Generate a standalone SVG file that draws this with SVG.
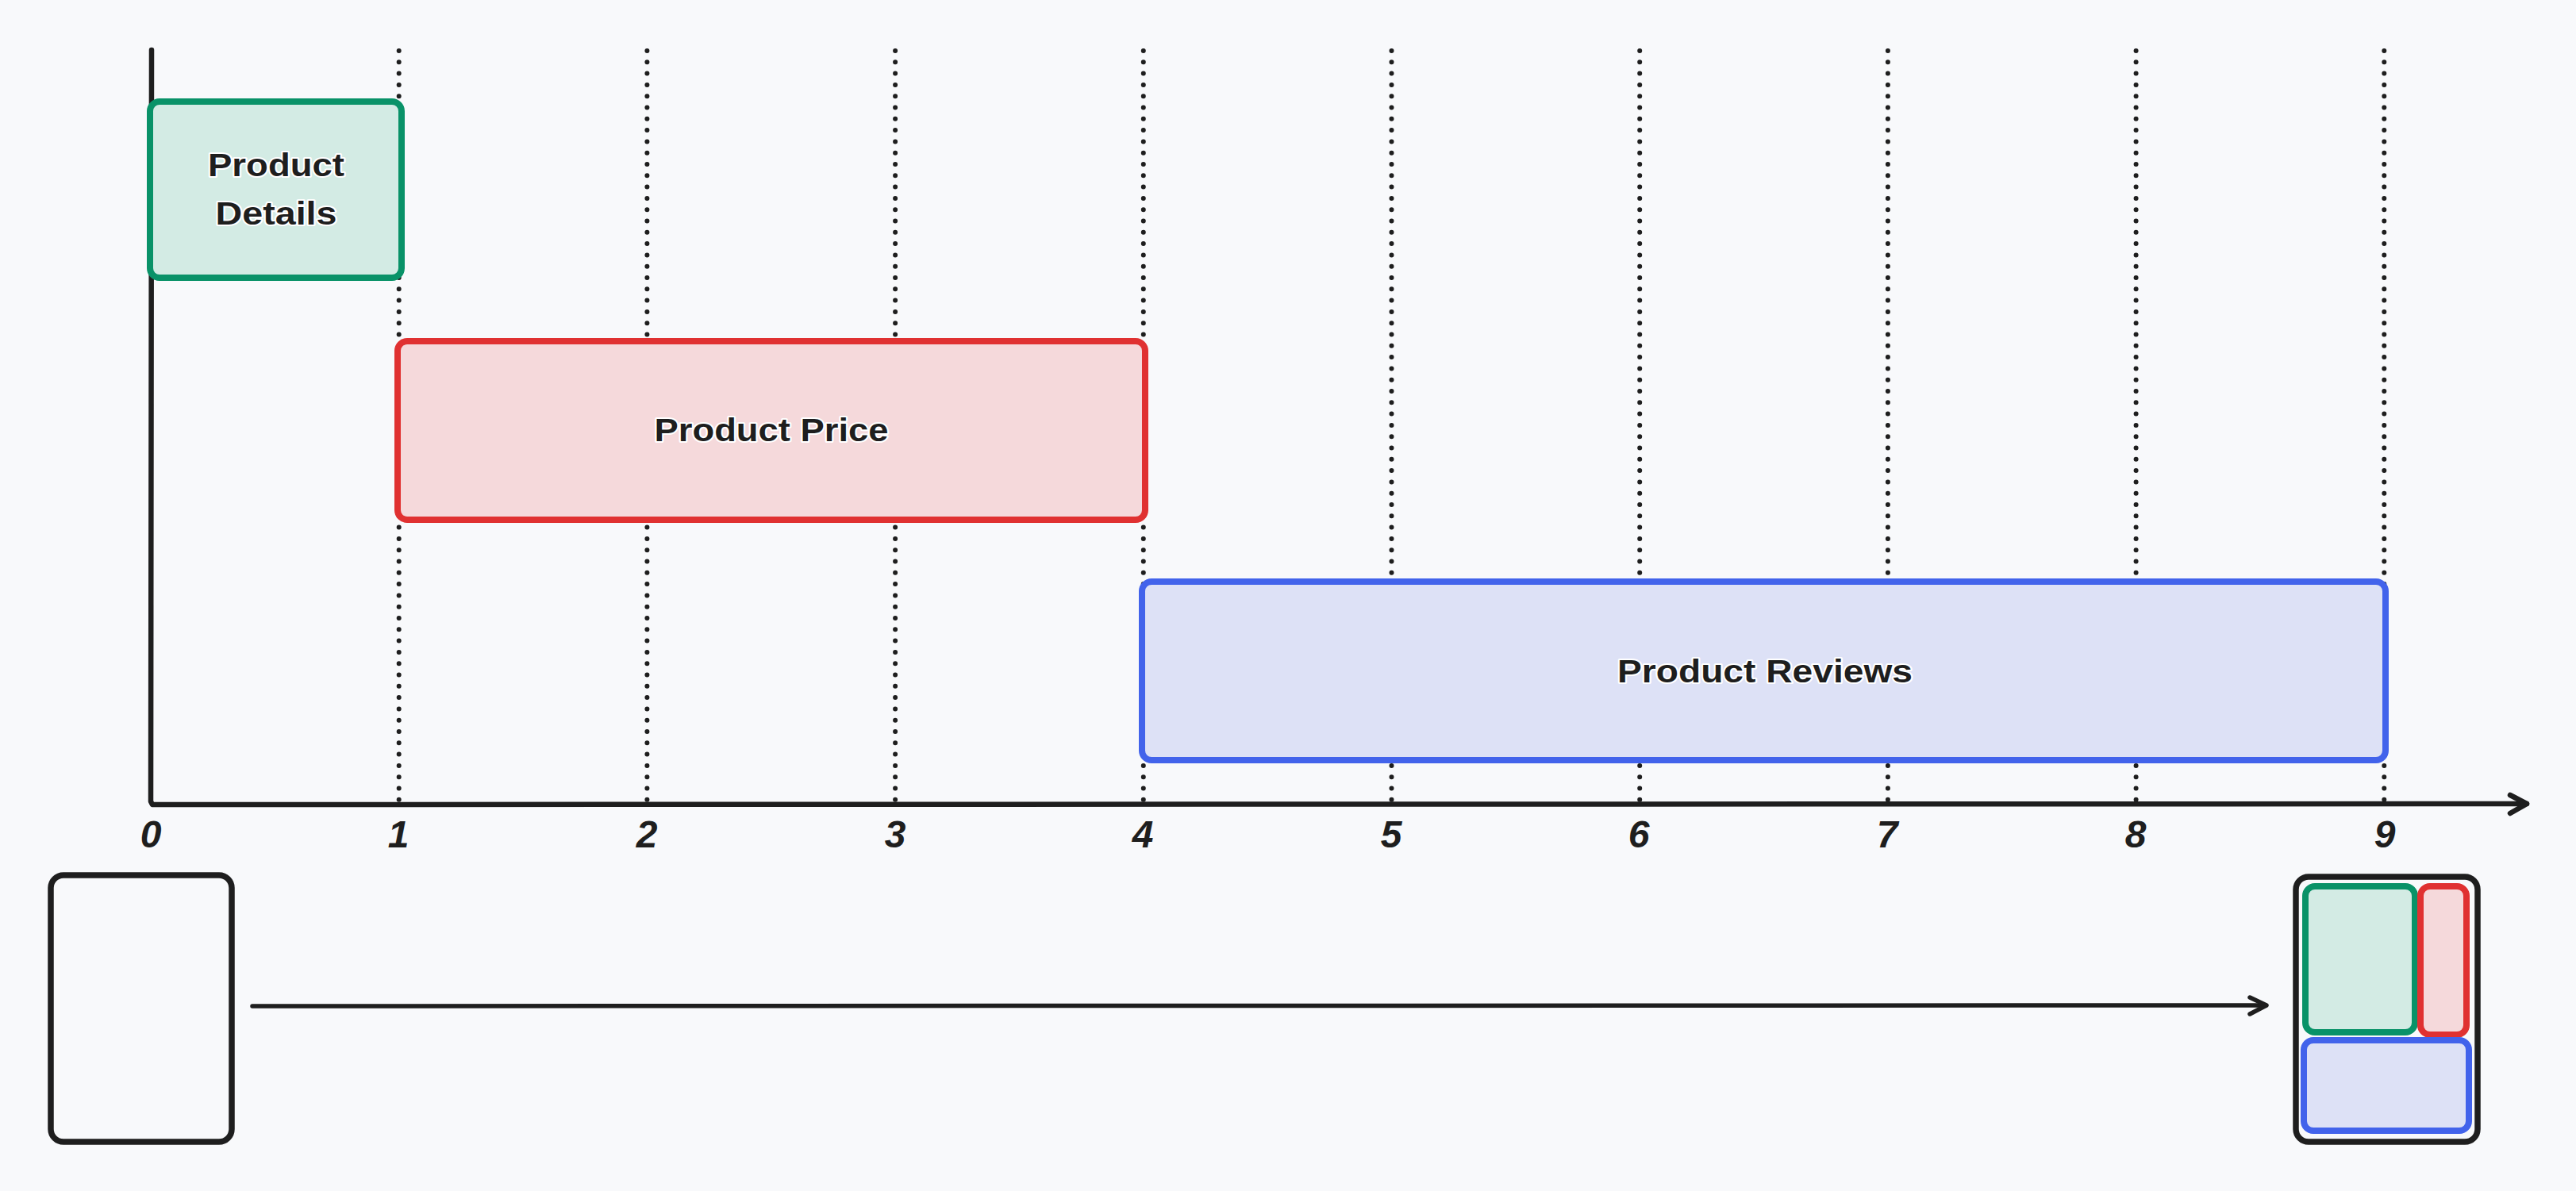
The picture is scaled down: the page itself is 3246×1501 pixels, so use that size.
<svg xmlns="http://www.w3.org/2000/svg" width="3246" height="1501" viewBox="0 0 3246 1501">
  <style>
    .grid { stroke: #1e1e1e; stroke-width: 6; stroke-linecap: round; stroke-dasharray: 0 14.3; fill: none; }
    .axis { stroke: #1e1e1e; stroke-width: 6.5; stroke-linecap: round; stroke-linejoin: round; fill: none; }
    .tick { font-family: "Liberation Sans", Arial, sans-serif; font-size: 48px; font-style: italic; font-weight: bold; fill: #1e1e1e; text-anchor: middle; }
    .lbl { font-family: "Liberation Sans", Arial, sans-serif; font-size: 40px; font-weight: bold; fill: #1e1e1e; text-anchor: middle; stroke: #ffffff; stroke-width: 4; paint-order: stroke; stroke-linejoin: round; }
    .green { fill: #d3ebe4; stroke: #099268; stroke-width: 8; }
    .red { fill: #f5d9db; stroke: #e03131; stroke-width: 8; }
    .blue { fill: #dde1f6; stroke: #4263eb; stroke-width: 8; }
    .black { fill: none; stroke: #1e1e1e; stroke-width: 7.5; }
    .inner { stroke-width: 8; }
    .conn { stroke: #1e1e1e; stroke-width: 5.5; stroke-linecap: round; stroke-linejoin: round; fill: none; }
  </style>
  <rect x="0" y="0" width="3246" height="1501" fill="#f8f9fb"/>

  <g id="grid-lines">
    <line class="grid" x1="502.7" y1="64" x2="502.7" y2="1012"/>
    <line class="grid" x1="815.4" y1="64" x2="815.4" y2="1012"/>
    <line class="grid" x1="1128.1" y1="64" x2="1128.1" y2="1012"/>
    <line class="grid" x1="1440.8" y1="64" x2="1440.8" y2="1012"/>
    <line class="grid" x1="1753.5" y1="64" x2="1753.5" y2="1012"/>
    <line class="grid" x1="2066.2" y1="64" x2="2066.2" y2="1012"/>
    <line class="grid" x1="2378.9" y1="64" x2="2378.9" y2="1012"/>
    <line class="grid" x1="2691.6" y1="64" x2="2691.6" y2="1012"/>
    <line class="grid" x1="3004.3" y1="64" x2="3004.3" y2="1012"/>
  </g>

  <g id="axes">
    <path class="axis" d="M191 63 L190 1010 L192 1014 L3184 1013"/>
    <path class="axis" d="M3163 1002 L3184 1013 L3163 1025"/>
  </g>

  <g id="tick-labels">
    <text class="tick" x="190" y="1068">0</text>
    <text class="tick" x="502" y="1068">1</text>
    <text class="tick" x="815" y="1068">2</text>
    <text class="tick" x="1128" y="1068">3</text>
    <text class="tick" x="1440" y="1068">4</text>
    <text class="tick" x="1753" y="1068">5</text>
    <text class="tick" x="2065" y="1068">6</text>
    <text class="tick" x="2378" y="1068">7</text>
    <text class="tick" x="2691" y="1068">8</text>
    <text class="tick" x="3005" y="1068">9</text>
  </g>

  <g id="product-details">
    <rect class="green" x="189" y="128" width="317" height="222" rx="12"/>
    <text class="lbl" x="348" y="222" textLength="172" lengthAdjust="spacingAndGlyphs">Product</text>
    <text class="lbl" x="348" y="283" textLength="153" lengthAdjust="spacingAndGlyphs">Details</text>
  </g>

  <g id="product-price">
    <rect class="red" x="501" y="430" width="942" height="225" rx="12"/>
    <text class="lbl" x="972" y="556" textLength="295" lengthAdjust="spacingAndGlyphs">Product Price</text>
  </g>

  <g id="product-reviews">
    <rect class="blue" x="1439" y="733" width="1567" height="225" rx="12"/>
    <text class="lbl" x="2224" y="860" textLength="372" lengthAdjust="spacingAndGlyphs">Product Reviews</text>
  </g>

  <g id="empty-page">
    <rect class="black" x="64" y="1103" width="228" height="336" rx="16"/>
  </g>

  <g id="loaded-page">
    <rect class="black" x="2893" y="1105" width="229" height="334" rx="16"/>
    <rect class="green inner" x="2905" y="1117" width="138" height="184" rx="12"/>
    <rect class="red inner" x="3050" y="1117" width="58" height="187" rx="12"/>
    <rect class="blue inner" x="2903" y="1311" width="208" height="114" rx="12"/>
  </g>

  <g id="connectors">
    <line class="conn" x1="318" y1="1268" x2="2855" y2="1267"/>
    <path class="conn" d="M2835 1257 L2856 1267 L2835 1278"/>
  </g>
</svg>
